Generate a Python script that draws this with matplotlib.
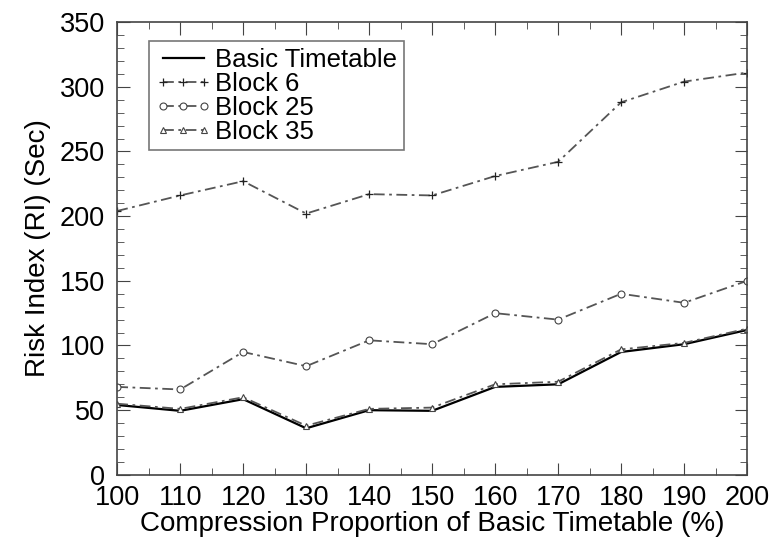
import matplotlib.pyplot as plt
from matplotlib.ticker import MultipleLocator

plt.rcParams['font.family'] = ['Liberation Sans', 'DejaVu Sans']

x = [100, 110, 120, 130, 140, 150, 160, 170, 180, 190, 200]
basic = [54, 49.5, 58.5, 36, 50, 49.5, 68, 70, 95, 101, 112]
block6 = [204, 216, 227, 202, 217, 216, 231, 242, 288, 304, 311]
block25 = [68, 66, 95, 84, 104, 101, 125, 120, 140, 133, 150]
block35 = [55, 51, 60, 38, 51, 52, 70, 72, 97, 102, 113]

fig = plt.figure(figsize=(7.71, 5.39), dpi=100)
ax = fig.add_axes([0.152, 0.119, 0.817, 0.840])

gray = '#555555'
dd = (0, (6, 2.5, 1.5, 2.5))
ax.plot(x, basic, '-', color='black', lw=1.6, label='Basic Timetable')
ax.plot(x, block6, ls=dd, color=gray, lw=1.3, marker='+', ms=6,
        mec='#222222', mew=0.9, label='Block 6')
ax.plot(x, block25, ls=dd, color=gray, lw=1.3, marker='o', ms=5,
        mfc='white', mec='#444444', mew=0.8, label='Block 25')
ax.plot(x, block35, ls=dd, color=gray, lw=1.3, marker='^', ms=4.5,
        mfc='white', mec='#444444', mew=0.8, label='Block 35')

ax.set_xlim(100, 200)
ax.set_ylim(0, 350)
ax.set_xticks(x)
ax.xaxis.set_minor_locator(MultipleLocator(5))
ax.yaxis.set_major_locator(MultipleLocator(50))
ax.yaxis.set_minor_locator(MultipleLocator(10))
ax.tick_params(which='both', direction='in', top=True, right=True,
               color='#444444')
ax.tick_params(which='major', length=9, labelsize=19.5)
ax.tick_params(axis='x', which='major', pad=7)
ax.tick_params(axis='y', which='major', pad=9)
ax.tick_params(which='minor', length=5)
for s in ax.spines.values():
    s.set_color('#444444')
    s.set_linewidth(1.2)

ax.set_xlabel('Compression Proportion of Basic Timetable (%)', fontsize=20, labelpad=0)
ax.set_ylabel('Risk Index (RI) (Sec)', fontsize=20, labelpad=6)

leg = ax.legend(loc='upper left', bbox_to_anchor=(0.05, 0.958), fontsize=18.5,
                numpoints=3, handlelength=2.2, handletextpad=0.15,
                labelspacing=0.0, borderpad=0.25, borderaxespad=0,
                fancybox=False, framealpha=1, edgecolor='#777777')
leg.get_frame().set_linewidth(1.2)

plt.savefig('out.png', dpi=100)
